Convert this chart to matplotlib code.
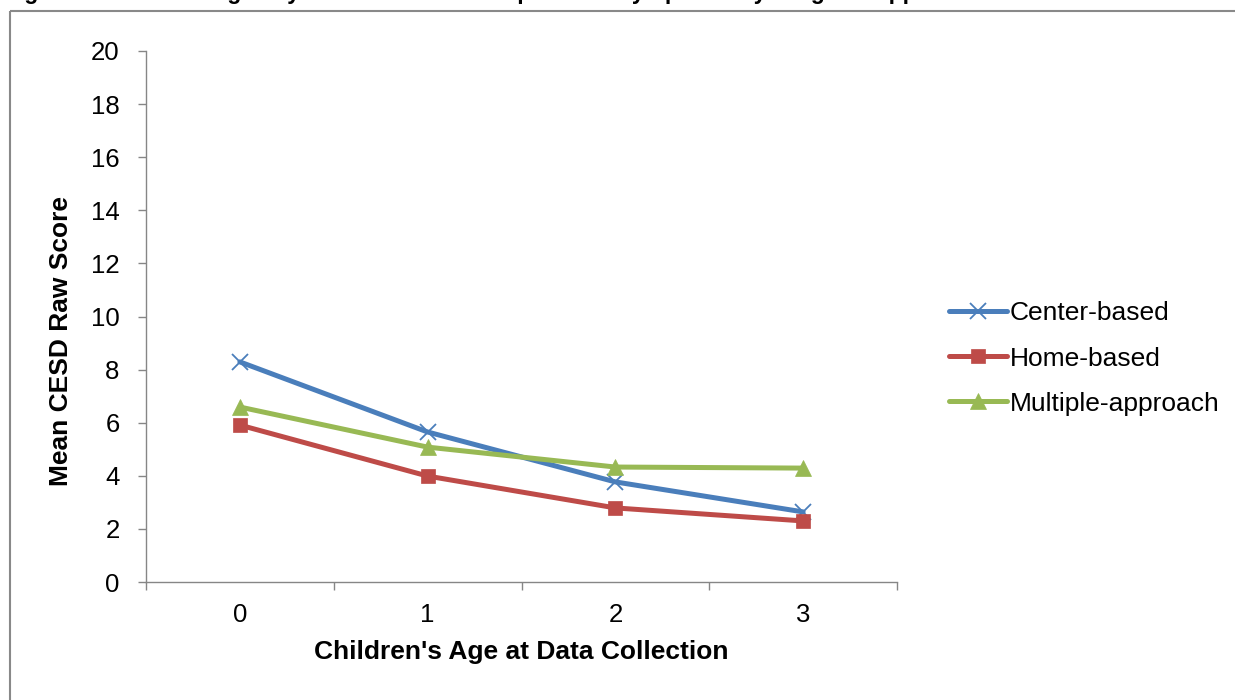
import matplotlib
matplotlib.use("Agg")
import matplotlib.pyplot as plt
from matplotlib.patches import Rectangle
from matplotlib.lines import Line2D

plt.rcParams['font.family'] = ['Liberation Sans', 'DejaVu Sans']

ages = [0, 1, 2, 3]
age_labels = ["0", "1", "2", "3"]
center_based = [8.29, 5.65, 3.77, 2.64]
home_based = [5.91, 3.99, 2.79, 2.30]
multiple_approach = [6.59, 5.08, 4.33, 4.29]
series_names = ["Center-based", "Home-based", "Multiple-approach"]
y_ticks = [0, 2, 4, 6, 8, 10, 12, 14, 16, 18, 20]

W, H = 1235, 700
fig = plt.figure(figsize=(W / 100, H / 100), dpi=100)

# caption, mostly clipped at the very top (only descenders visible)
fig.text(4 / W, 1 + 0.5 / H,
         "Figure 1. Mean Changes by Year in Mothers' Depressive Symptoms by Program Approach",
         fontsize=16.5, fontweight='bold', ha='left', va='baseline')

# outer gray border
fig.patches.append(Rectangle((10 / W, 1 - 11 / H), 1.2, -1.2, transform=fig.transFigure,
                             fill=False, edgecolor='#898989', lw=1.5, clip_on=False))

ax = fig.add_axes([146 / W, (H - 582) / H, 751 / W, 531 / H])

colors = ['#4A7EBB', '#BE4B48', '#98B954']
markers = ['x', 's', '^']
msizes = [11, 10.5, 11]
data = [center_based, home_based, multiple_approach]
for vals, c, m, ms, name in zip(data, colors, markers, msizes, series_names):
    ax.plot(ages, vals, color=c, lw=3.6, marker=m, markersize=ms,
            markeredgewidth=1.3 if m == 'x' else 0.5, markeredgecolor=c,
            markerfacecolor=c, label=name, solid_capstyle='round', zorder=3)

ax.set_xlim(-0.5, 3.5)
ax.set_ylim(0, 20)
ax.set_yticks(y_ticks)
ax.set_yticklabels([str(t) for t in y_ticks])
ax.set_xticks(ages)
ax.set_xticklabels(age_labels)
ax.set_xticks([-0.5, 0.5, 1.5, 2.5, 3.5], minor=True)
ax.tick_params(axis='x', which='major', length=0, pad=15, labelsize=18.5)
ax.tick_params(axis='x', which='minor', length=6, width=1, color='#868686', direction='out')
ax.tick_params(axis='y', which='major', length=6, width=1, color='#868686', direction='out',
               pad=13, labelsize=18.5)

for s in ['top', 'right']:
    ax.spines[s].set_visible(False)
for s in ['left', 'bottom']:
    ax.spines[s].set_color('#868686')
    ax.spines[s].set_linewidth(1)

ax.set_xlabel("Children's Age at Data Collection", fontsize=19, fontweight='bold', va='center')
ax.xaxis.set_label_coords(0.5, -(652 - 582) / 531)
ax.set_ylabel("Mean CESD Raw Score", fontsize=19, fontweight='bold', va='center')
ax.yaxis.set_label_coords((61 - 146) / 751, (582 - 341) / 531)

handles = [Line2D([0], [0], color=c, lw=3.6, marker=m, markersize=ms, markerfacecolor=c,
                  markeredgecolor=c, markeredgewidth=1.3 if m == 'x' else 0.5,
                  solid_capstyle='round')
           for c, m, ms in zip(colors, markers, msizes)]
fig.legend(handles, series_names, loc='center left',
           bbox_to_anchor=(949 / W, 1 - 358.5 / H), frameon=False, fontsize=19,
           handlelength=2.2, handletextpad=0.1, labelspacing=0.8, borderaxespad=0,
           borderpad=0)

fig.savefig("out.png", dpi=100)
